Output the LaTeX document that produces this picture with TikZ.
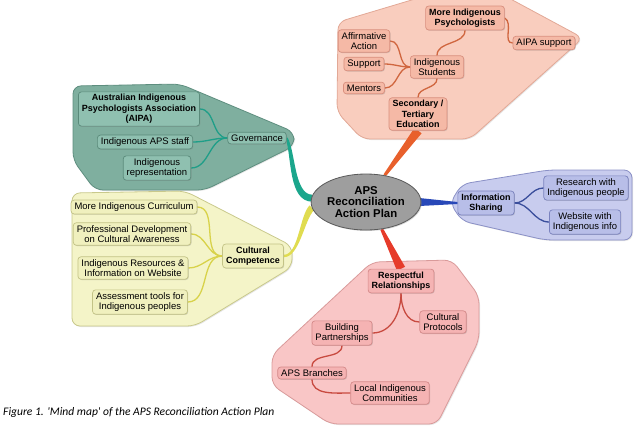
\documentclass[tikz,border=0pt]{standalone}
\usepackage{fontspec}
\setmainfont{Liberation Sans}
\newfontfamily\capfont{Carlito}
\usetikzlibrary{calc,shadows,shapes.geometric}
\pgfdeclarelayer{bg}
\pgfdeclarelayer{mid}
\pgfsetlayers{bg,mid,main}
\definecolor{rRegF}{HTML}{F9CDBE}\definecolor{rRegB}{HTML}{E2A896}
\definecolor{rNodF}{HTML}{F5B9A6}\definecolor{rNodB}{HTML}{D98F7E}\definecolor{rEdge}{HTML}{D0663F}
\definecolor{gRegF}{HTML}{7FAF9F}\definecolor{gRegB}{HTML}{5E8E7F}
\definecolor{gNodF}{HTML}{8FC0B0}\definecolor{gNodB}{HTML}{5A8A7A}\definecolor{gEdge}{HTML}{1F9E88}
\definecolor{yRegF}{HTML}{F4F4C8}\definecolor{yRegB}{HTML}{C9C98C}
\definecolor{yNodF}{HTML}{F0F0BE}\definecolor{yNodB}{HTML}{C3C386}\definecolor{yEdge}{HTML}{D8D24A}
\definecolor{bRegF}{HTML}{C8CCEE}\definecolor{bRegB}{HTML}{8A90C6}
\definecolor{bNodF}{HTML}{B8BEE8}\definecolor{bNodB}{HTML}{7A82BE}\definecolor{bEdge}{HTML}{3A4E9C}
\definecolor{pRegF}{HTML}{F9C6C6}\definecolor{pRegB}{HTML}{D99A9A}
\definecolor{pNodF}{HTML}{F5B3B3}\definecolor{pNodB}{HTML}{D58A8A}\definecolor{pEdge}{HTML}{C84A40}
\definecolor{mOrange}{HTML}{E8602C}\definecolor{mRed}{HTML}{E63B2A}
\definecolor{mBlue}{HTML}{2848B8}\definecolor{mGreen}{HTML}{1BA68C}\definecolor{mYellow}{HTML}{E0DC50}
\definecolor{cFill}{HTML}{9E9E9E}\definecolor{cBord}{HTML}{5A5A5A}
\newcommand\mmreg{\fontsize{9.5}{10.5}\selectfont}
\newcommand\mmbold{\fontsize{9}{10.5}\selectfont\bfseries}
\tikzset{
  box/.style={rounded corners=3bp, inner xsep=3.5bp, inner ysep=2.5bp, align=center,
    font=\mmreg, line width=0.7bp,
    drop shadow={shadow xshift=0.8bp, shadow yshift=-0.8bp, opacity=0.3}},
  bbox/.style={box, font=\mmbold},
  rbox/.style={fill=rNodF, draw=rNodB},
  gbox/.style={fill=gNodF, draw=gNodB},
  ybox/.style={fill=yNodF, draw=yNodB},
  blbox/.style={fill=bNodF, draw=bNodB},
  pbox/.style={fill=pNodF, draw=pNodB},
  region/.style={rounded corners=8bp, line width=0.8bp,
    drop shadow={shadow xshift=1bp, shadow yshift=-1bp, opacity=0.2}},
  link/.style={line width=1.3bp, line cap=round},
}
\begin{document}
\begin{tikzpicture}[x=1bp,y=-1bp]
\useasboundingbox (0,0) rectangle (637,426);
% central
\node[ellipse, fill=cFill, draw=cBord, line width=0.8bp, minimum width=92bp, minimum height=56bp,
  inner sep=0pt, align=center, font=\fontsize{11.4}{11.5}\selectfont\bfseries,
  drop shadow={shadow xshift=1bp, shadow yshift=-1bp, opacity=0.3}] (c) at (366,202)
  {APS\\Reconciliation\\Action Plan};
% top red
\node[bbox,rbox] (mip) at (465,18) {More Indigenous\\Psychologists};
\node[box,rbox] (aa) at (364,41) {Affirmative\\Action};
\node[box,rbox] (sup) at (364,64) {Support};
\node[box,rbox] (men) at (364,88) {Mentors};
\node[box,rbox] (ist) at (437,67) {Indigenous\\Students};
\node[bbox,rbox] (ste) at (418,114) {Secondary /\\Tertiary\\Education};
\node[box,rbox] (aipas) at (544,43) {AIPA support};
% green
\node[bbox,gbox] (aipa) at (139,109) {Australian Indigenous\\Psychologists Association\\(AIPA)};
\node[box,gbox] (iaps) at (145,142) {Indigenous APS staff};
\node[box,gbox] (irep) at (157,168) {Indigenous\\representation};
\node[box,gbox] (gov) at (257,138) {Governance};
% yellow
\node[box,ybox] (mic) at (134,207) {More Indigenous Curriculum};
\node[box,ybox] (pd) at (132,234) {Professional Development\\on Cultural Awareness};
\node[box,ybox] (ir) at (133,268) {Indigenous Resources \&\\Information on Website};
\node[box,ybox] (at) at (140,302) {Assessment tools for\\Indigenous peoples};
\node[bbox,ybox] (cc) at (253,256) {Cultural\\Competence};
% blue
\node[bbox,blbox] (info) at (486,203) {Information\\Sharing};
\node[box,blbox] (res) at (586,188) {Research with\\Indigenous people};
\node[box,blbox] (web) at (585,222) {Website with\\Indigenous info};
% pink
\node[bbox,pbox] (rr) at (401,281) {Respectful\\Relationships};
\node[box,pbox] (cp) at (443,322) {Cultural\\Protocols};
\node[box,pbox] (bp) at (342,333) {Building\\Partnerships};
\node[box,pbox] (apsb) at (312,373) {APS Branches};
\node[box,pbox] (lic) at (390,393) {Local Indigenous\\Communities};
% caption
\node[anchor=west, inner sep=0pt, font=\capfont\itshape\fontsize{11.6}{13}\selectfont] (cap) at (3,412)
  {Figure 1. 'Mind map' of the APS Reconciliation Action Plan};
% regions
\begin{pgfonlayer}{bg}
\draw[region, fill=rRegF, draw=rRegB] (338,22) -- (425,-4) -- (505,-4) -- (583,38) -- (470,139) -- (362,139) -- (337,112) -- cycle;
\draw[region, fill=gRegF, draw=gRegB] (73,86) -- (180,84) -- (294,132) -- (294,146) -- (205,190) -- (95,190) -- (73,160) -- cycle;
\draw[region, fill=yRegF, draw=yRegB] (72,193) -- (185,191) -- (292,246) -- (292,267) -- (195,326) -- (72,326) -- cycle;
\draw[region, fill=bRegF, draw=bRegB] (450,203) -- (462,184) -- (548,170) -- (632,170) -- (632,240) -- (545,240) -- (462,221) -- cycle;
\draw[region, fill=pRegF, draw=pRegB] (372,262) -- (452,260) -- (479,296) -- (479,340) -- (437,424) -- (330,424) -- (272,385) -- (272,355) -- cycle;
\end{pgfonlayer}
% connectors
\begin{pgfonlayer}{mid}
% main tapered
\fill[mOrange] ($(ste.south)!4.5bp!90:(c.55)$) -- ($(c.55)!1.5bp!-90:(ste.south)$) -- ($(c.55)!1.5bp!90:(ste.south)$) -- ($(ste.south)!4.5bp!-90:(c.55)$) -- cycle;
\fill[mRed] ($(rr.north)!4.5bp!90:(c.-60)$) -- ($(c.-60)!1.5bp!-90:(rr.north)$) -- ($(c.-60)!1.5bp!90:(rr.north)$) -- ($(rr.north)!4.5bp!-90:(c.-60)$) -- cycle;
\fill[mBlue] ($(c.east)+(-2,-4)$) -- ($(info.west)+(0,-1)$) -- ($(info.west)+(0,1)$) -- ($(c.east)+(-2,4)$) -- cycle;
\fill[mGreen] ($(gov.east)+(0.9,-0.5)$) .. controls +(8,14) and +(-18,0) .. ($(c.176)+(1,-3.5)$) -- ($(c.176)+(1,3.5)$) .. controls +(-24,0) and +(6,18) .. ($(gov.east)+(-0.9,0.5)$) -- cycle;
\fill[mYellow] ($(cc.east)+(0,-1.2)$) .. controls +(15,0) and +(-10,10) .. ($(c.186)+(-2.3,-2.3)$) -- ($(c.186)+(2.3,2.3)$) .. controls +(-10,10) and +(16,0) .. ($(cc.east)+(0,1.2)$) -- cycle;
% red top
\begin{scope}[link, draw=rEdge]
\draw (ist.west) to[out=180,in=0] (aa.east);
\draw (ist.west) to[out=180,in=0] (sup.east);
\draw (ist.west) to[out=180,in=0] (men.east);
\draw (ist.north) to[out=90,in=-90] (mip.south);
\draw (ist.south) to[out=-90,in=90] (ste.north);
\draw (mip.east) to[out=-30,in=180] (aipas.west);
\end{scope}
\begin{scope}[link, draw=gEdge]
\draw (gov.west) to[out=180,in=0] (aipa.east);
\draw (gov.west) to[out=180,in=0] (iaps.east);
\draw (gov.west) to[out=180,in=0] (irep.east);
\end{scope}
\begin{scope}[link, draw=yEdge]
\draw (cc.west) to[out=180,in=0] (mic.east);
\draw (cc.west) to[out=180,in=0] (pd.east);
\draw (cc.west) to[out=180,in=0] (ir.east);
\draw (cc.west) to[out=180,in=0] (at.east);
\end{scope}
\begin{scope}[link, draw=bEdge]
\draw (info.east) to[out=0,in=180] (res.west);
\draw (info.east) to[out=0,in=180] (web.west);
\end{scope}
\begin{scope}[link, draw=pEdge]
\draw (rr.south) to[out=-90,in=0] (bp.east);
\draw (rr.south) to[out=-90,in=180] (cp.west);
\draw (bp.south) to[out=-90,in=90] (apsb.north);
\draw (apsb.south) to[out=-90,in=180] (lic.west);
\end{scope}
\end{pgfonlayer}
\end{tikzpicture}
\end{document}
